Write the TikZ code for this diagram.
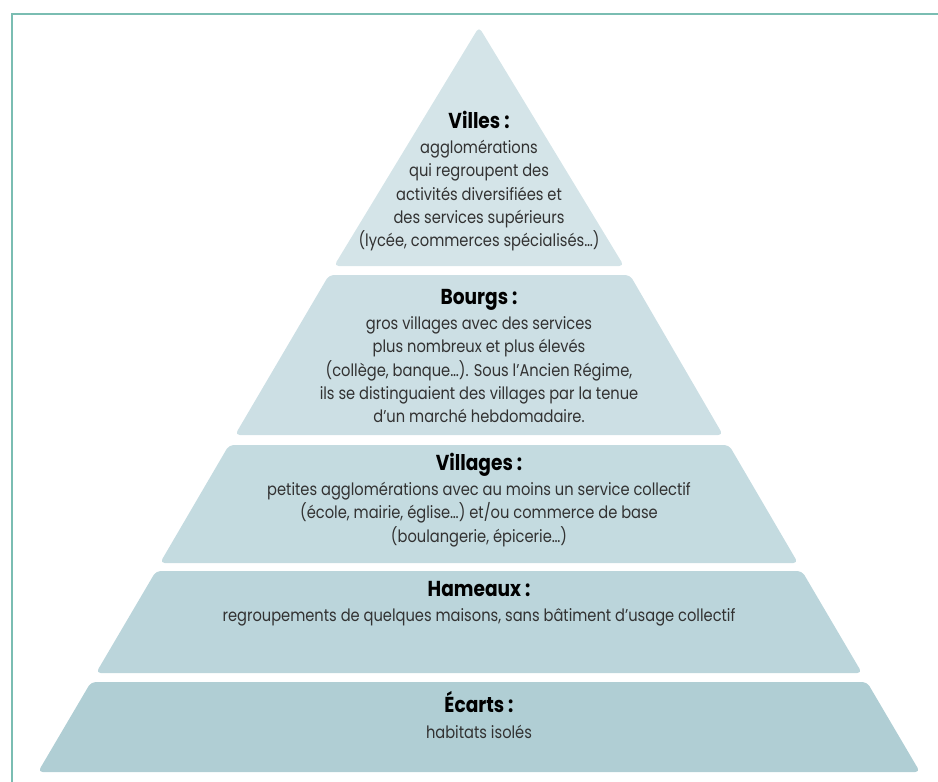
\documentclass[tikz,border=0pt]{standalone}
\usepackage{fontspec}
\setmainfont{Poppins}[FakeStretch=0.86]
\usepackage{xcolor}
\usepackage{tikz}
\definecolor{frameteal}{RGB}{122,189,178}
\definecolor{tierA}{RGB}{212,228,232}
\definecolor{tierB}{RGB}{204,223,228}
\definecolor{tierC}{RGB}{196,219,224}
\definecolor{tierD}{RGB}{187,213,219}
\definecolor{tierE}{RGB}{176,206,212}
\definecolor{txtgrey}{RGB}{50,50,50}
\newcommand{\tierhead}[1]{{\fontsize{12.3}{13}\selectfont\bfseries\color{black}#1}}

\begin{document}
\begin{tikzpicture}[
  x=0.2mm, y=-0.2mm,
  band/.style={rounded corners=2.6pt},
  lbl/.style={align=center, inner sep=0pt, text=txtgrey, font=\fontsize{9.7}{13.3}\selectfont}
]
\useasboundingbox (0,0) rectangle (938,782);
\draw[frameteal, line width=1.2pt] (938,14) -- (12,14) -- (12,782);

\fill[tierA, band] (334,266) -- (479,27) -- (624,266) -- cycle;
\fill[tierB, band] (329,275) -- (630,275) -- (723,435) -- (235,435) -- cycle;
\fill[tierC, band] (229,445) -- (729,445) -- (798,563) -- (160,563) -- cycle;
\fill[tierD, band] (156,571) -- (802,571) -- (862,673) -- (96,673) -- cycle;
\fill[tierE, band] (91,682) -- (867,682) -- (920,772) -- (38,772) -- cycle;

\node[lbl] (villes) at (479,181) {\tierhead{Villes :}\\[1pt]
  agglomérations\\qui regroupent des\\activités diversifiées et\\des services supérieurs\\(lycée, commerces spécialisés…)};
\node[lbl] (bourgs) at (479,356) {\tierhead{Bourgs :}\\[1pt]
  gros villages avec des services\\plus nombreux et plus élevés\\(collège, banque…). Sous l’Ancien Régime,\\ils se distinguaient des villages par la tenue\\d’un marché hebdomadaire.};
\node[lbl] (villages) at (479,500) {\tierhead{Villages :}\\[1pt]
  petites agglomérations avec au moins un service collectif\\(école, mairie, église…) et/ou commerce de base\\(boulangerie, épicerie…)};
\node[lbl] (hameaux) at (479,604) {\tierhead{Hameaux :}\\[1pt]
  regroupements de quelques maisons, sans bâtiment d’usage collectif};
\node[lbl] (ecarts) at (479,715) {\tierhead{Écarts :}\\[1pt]
  habitats isolés};
\end{tikzpicture}
\end{document}
